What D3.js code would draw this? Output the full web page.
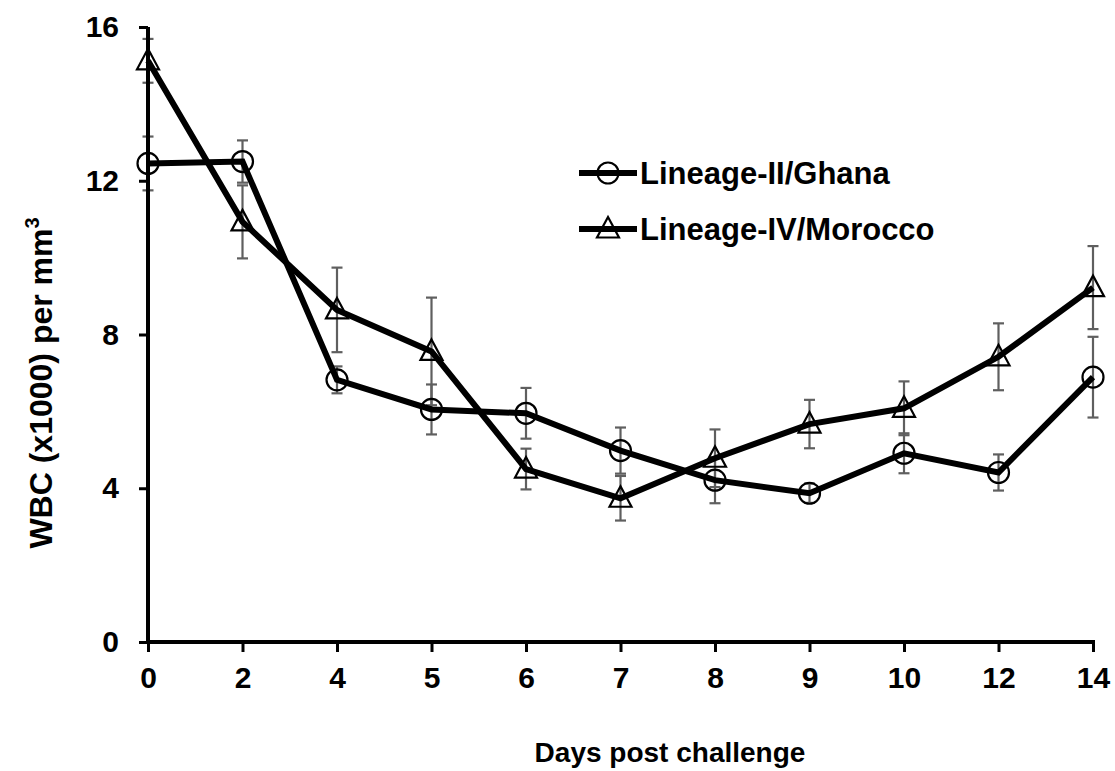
<!DOCTYPE html>
<html>
<head>
<meta charset="utf-8">
<script src="https://cdn.jsdelivr.net/npm/d3@7"></script>
<style>
  html, body { margin: 0; padding: 0; background: #fff; }
  svg { display: block; }
  text { font-family: "Liberation Sans", Arial, sans-serif; font-weight: bold; fill: #000; }
</style>
</head>
<body>
<svg id="chart" width="1115" height="771"></svg>
<script>
// ---- data ----
const days = ["0", "2", "4", "5", "6", "7", "8", "9", "10", "12", "14"];
const ghanaMean = [12.45, 12.5, 6.82, 6.05, 5.95, 4.98, 4.21, 3.87, 4.91, 4.41, 6.89];
const ghanaErr  = [0.7, 0.55, 0.35, 0.65, 0.66, 0.6, 0.6, 0.25, 0.52, 0.47, 1.05];
const moroccoMean = [15.12, 10.93, 8.64, 7.56, 4.5, 3.74, 4.78, 5.67, 6.08, 7.42, 9.22];
const moroccoErr  = [0.57, 0.95, 1.1, 1.4, 0.53, 0.58, 0.75, 0.63, 0.7, 0.87, 1.08];
const yTicks = [0, 4, 8, 12, 16];
const seriesNames = ["Lineage-II/Ghana", "Lineage-IV/Morocco"];

const svg = d3.select("#chart");
const x = d3.scalePoint().domain(days).range([148, 1093]);
const y = d3.scaleLinear().domain([0, 16]).range([642, 27]);

const series = [
  { name: seriesNames[0], mean: ghanaMean, err: ghanaErr, shape: "circle" },
  { name: seriesNames[1], mean: moroccoMean, err: moroccoErr, shape: "triangle" }
];

// error bars
series.forEach(s => {
  const g = svg.append("g").attr("stroke", "#5f5f5f").attr("stroke-width", 2.2).attr("fill", "none");
  days.forEach((d, i) => {
    const cx = x(d), top = y(s.mean[i] + s.err[i]), bot = y(s.mean[i] - s.err[i]);
    g.append("line").attr("x1", cx).attr("x2", cx).attr("y1", top).attr("y2", bot);
    g.append("line").attr("x1", cx - 5.5).attr("x2", cx + 5.5).attr("y1", top).attr("y2", top);
    g.append("line").attr("x1", cx - 5.5).attr("x2", cx + 5.5).attr("y1", bot).attr("y2", bot);
  });
});

// axes
const yAxis = d3.axisLeft(y).tickValues(yTicks).tickSize(9).tickPadding(20).tickSizeOuter(0);
const gy = svg.append("g").attr("transform", "translate(148,0)").call(yAxis);
gy.select(".domain").attr("stroke", "#000").attr("stroke-width", 4).attr("d", `M0,${y(16)}V${y(0) + 2}`);
gy.selectAll(".tick line").attr("stroke", "#000").attr("stroke-width", 3);
gy.selectAll(".tick text").attr("font-size", 30).attr("font-family", "Liberation Sans, Arial, sans-serif").attr("font-weight", "bold").attr("fill", "#000");

const xAxis = d3.axisBottom(x).tickSize(10).tickPadding(15).tickSizeOuter(0);
const gx = svg.append("g").attr("transform", `translate(0,${y(0)})`).call(xAxis);
gx.select(".domain").attr("stroke", "#000").attr("stroke-width", 4).attr("d", `M${146},0H${x("14") + 2}`);
gx.selectAll(".tick line").attr("stroke", "#000").attr("stroke-width", 3);
gx.selectAll(".tick text").attr("font-size", 30).attr("font-family", "Liberation Sans, Arial, sans-serif").attr("font-weight", "bold").attr("fill", "#000");

// lines
const line = d3.line().x((v, i) => x(days[i])).y(v => y(v));
series.forEach(s => {
  svg.append("path").datum(s.mean).attr("d", line)
    .attr("fill", "none").attr("stroke", "#000").attr("stroke-width", 6).attr("stroke-linejoin", "miter");
});

// markers
function drawMarker(g, shape, cx, cy) {
  if (shape === "circle") {
    g.append("circle").attr("cx", cx).attr("cy", cy).attr("r", 10.5)
      .attr("fill", "none").attr("stroke", "#000").attr("stroke-width", 2.2);
  } else {
    g.append("path").attr("d", `M${cx},${cy - 12}L${cx + 11},${cy + 8.5}L${cx - 11},${cy + 8.5}Z`)
      .attr("fill", "none").attr("stroke", "#000").attr("stroke-width", 2.2);
  }
}
series.forEach(s => {
  const g = svg.append("g");
  days.forEach((d, i) => drawMarker(g, s.shape, x(d), y(s.mean[i])));
});

// legend
const legY = [173, 229];
series.forEach((s, i) => {
  const g = svg.append("g");
  g.append("line").attr("x1", 579).attr("x2", 637).attr("y1", legY[i]).attr("y2", legY[i])
    .attr("stroke", "#000").attr("stroke-width", 6);
  drawMarker(g, s.shape, 608, legY[i]);
  g.append("text").attr("x", 640).attr("y", legY[i] + 11).attr("font-size", 31).text(s.name);
});

// axis titles
svg.append("text").attr("x", 670).attr("y", 762).attr("text-anchor", "middle")
  .attr("font-size", 28).text("Days post challenge");
const yt = svg.append("text").attr("transform", "translate(52,383) rotate(-90)")
  .attr("text-anchor", "middle").attr("font-size", 32);
yt.append("tspan").text("WBC (x1000) per mm");
yt.append("tspan").attr("font-size", 20).attr("dy", -13).text("3");
</script>
</body>
</html>
